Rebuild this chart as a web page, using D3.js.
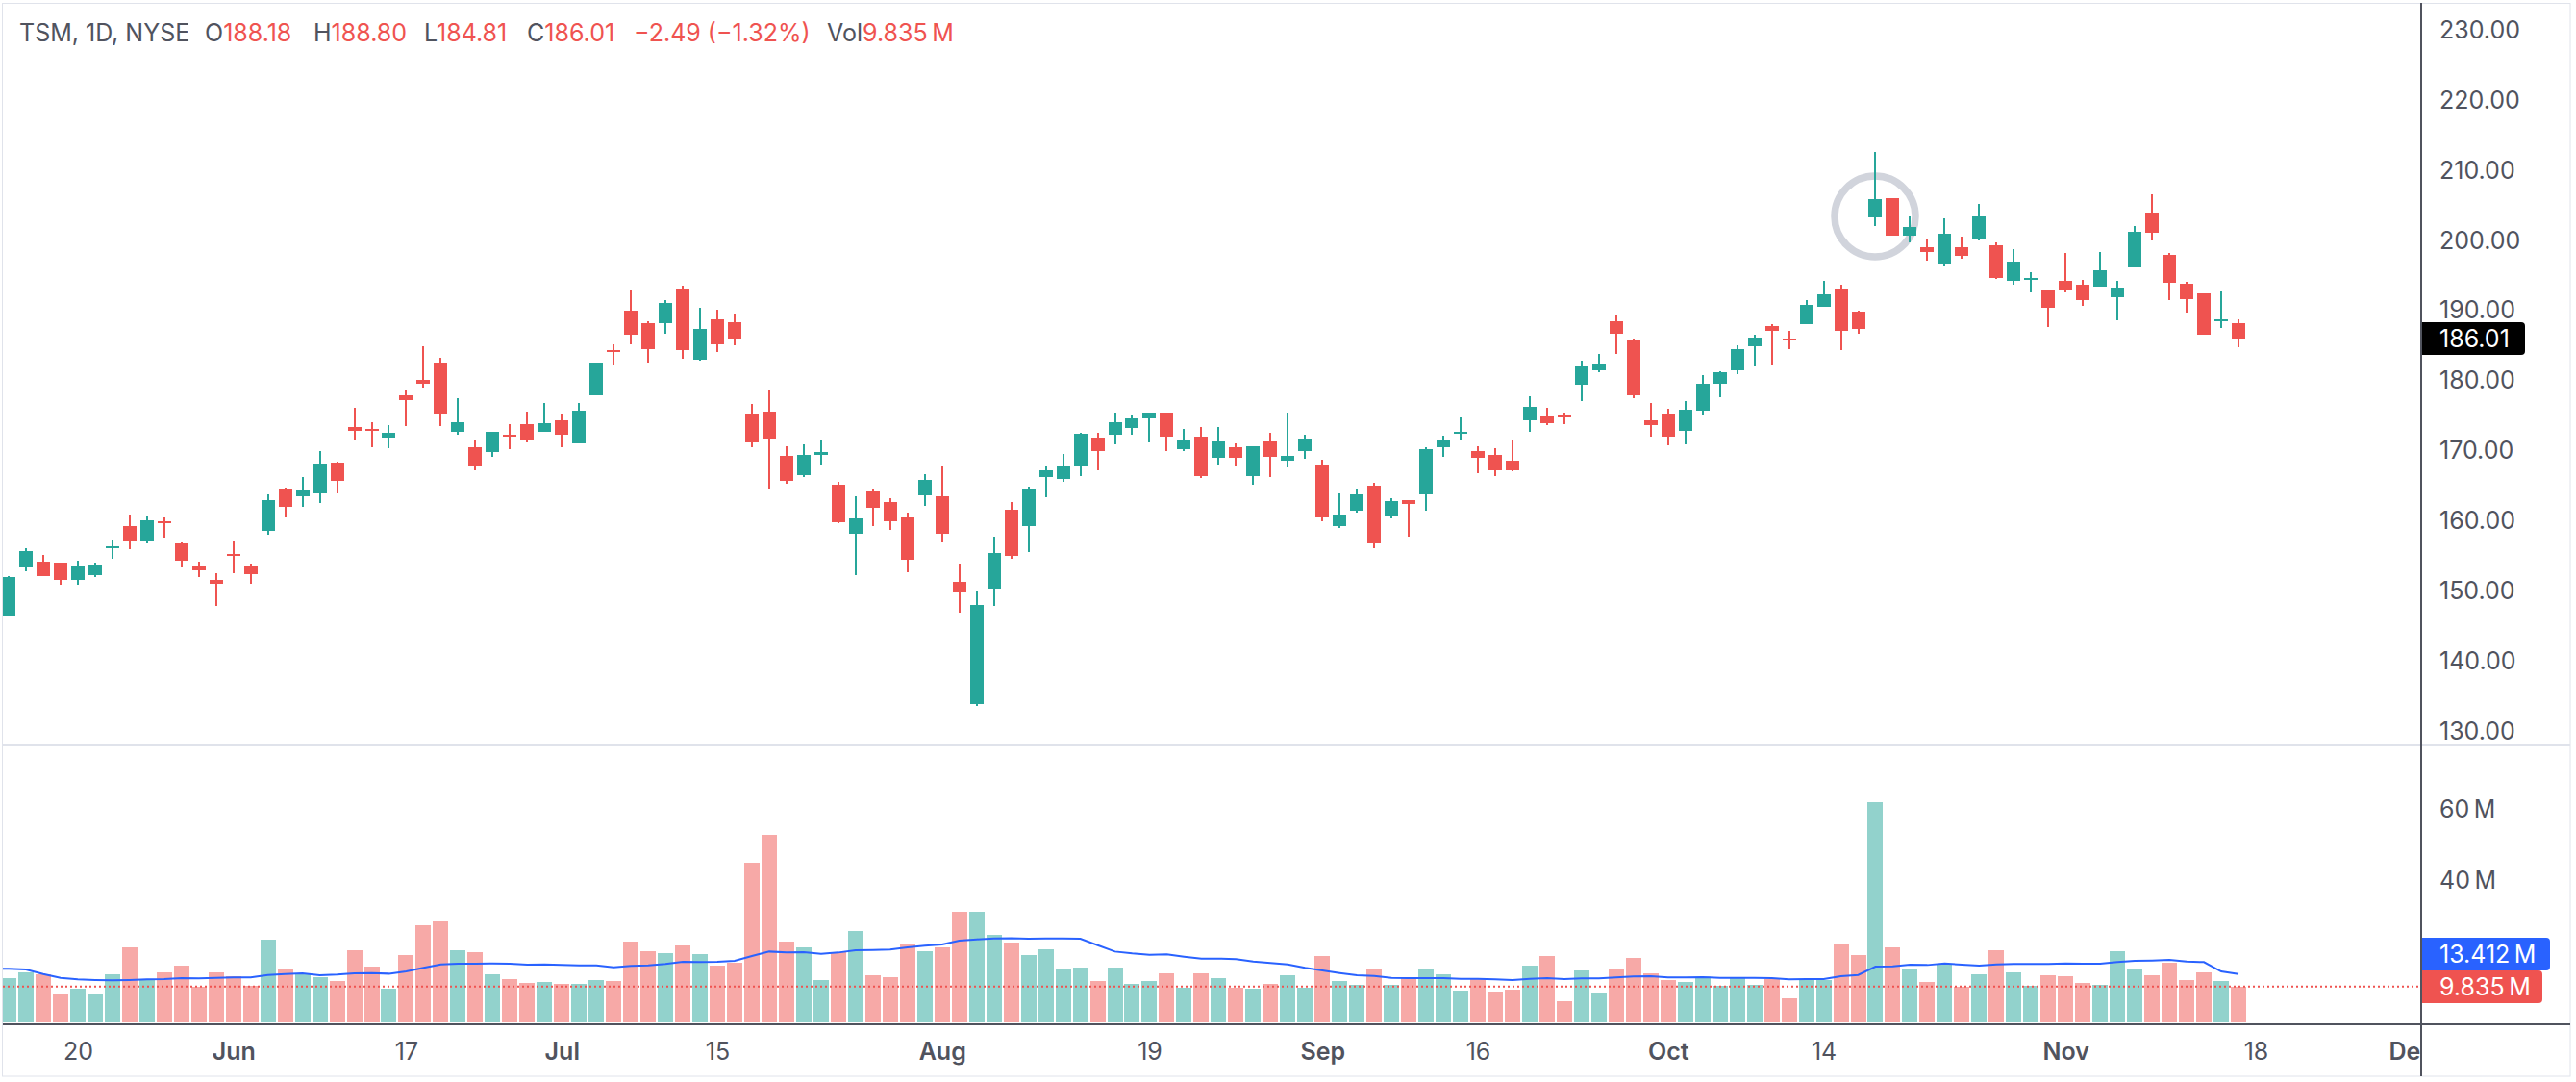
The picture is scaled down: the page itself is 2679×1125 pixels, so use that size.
<!DOCTYPE html>
<html>
<head>
<meta charset="utf-8">
<title>TSM, 1D, NYSE</title>
<script src="https://d3js.org/d3.v7.min.js"></script>
<style>
  html, body { margin: 0; background: #fff; }
  svg { display: block; }
  text { font-family: Inter, "Noto Sans", sans-serif; }
</style>
</head>
<body>
<div id="chart"></div>
<script>
// ohlc, one entry per trading day
var opens = [146.51,153.36,154.19,154.05,151.58,152.27,156.11,159.26,157.20,159.95,
  156.79,153.64,151.58,155.28,153.50,158.58,164.61,163.51,163.92,168.31,
  173.39,173.11,171.88,177.92,180.11,182.58,172.70,170.51,169.82,172.29,
  173.80,172.70,174.35,171.06,177.92,184.36,189.99,188.20,188.20,193.14,
  182.99,188.75,188.34,175.31,175.58,169.27,166.53,169.41,165.16,158.16,
  164.34,162.69,160.50,163.65,163.51,151.31,133.89,150.35,161.59,159.26,
  166.26,165.98,167.90,171.88,172.29,173.25,174.62,175.45,170.23,172.02,
  169.00,170.51,166.39,171.33,168.59,169.96,168.04,159.26,161.46,165.02,
  160.63,162.96,163.79,170.51,172.43,169.96,169.41,168.59,174.35,174.90,
  175.03,179.42,181.48,188.48,185.87,174.35,175.31,172.84,175.72,179.56,
  181.48,184.91,187.79,186.01,188.07,190.53,193.00,189.85,203.29,206.03,
  200.68,199.04,196.57,199.04,200.14,199.31,194.24,194.37,192.87,194.24,
  193.69,193.41,191.91,196.16,203.98,197.94,193.83,192.45,188.48,188.18];
var highs = [152.13,156.11,155.15,154.05,154.32,154.05,157.34,160.91,160.77,160.50,
  156.93,154.19,152.54,157.20,153.91,163.79,164.75,166.26,169.96,168.45,
  176.13,174.07,173.66,178.74,184.91,183.26,177.50,171.47,172.70,173.80,
  175.58,176.82,175.31,176.82,182.58,185.18,192.87,188.48,191.49,193.55,
  190.40,190.12,189.57,176.68,178.74,170.65,170.92,171.61,165.57,163.51,
  164.61,163.24,161.18,166.67,167.77,153.91,150.07,157.75,162.69,164.89,
  167.90,169.55,172.57,172.57,175.45,175.03,175.45,175.45,173.11,173.39,
  173.39,171.06,170.65,172.57,175.45,172.29,168.72,163.92,164.61,165.43,
  163.24,162.96,170.51,172.15,174.76,170.65,170.37,171.61,177.78,176.13,
  175.45,182.85,183.81,189.44,186.01,176.82,175.99,177.09,180.80,181.34,
  185.05,186.51,188.07,187.11,191.49,194.24,193.69,189.99,212.62,206.03,
  203.43,200.14,203.15,200.55,205.21,199.72,198.76,195.47,192.87,198.21,
  194.37,198.35,194.24,202.06,206.58,198.21,194.10,192.45,192.73,188.80];
var lows = [146.37,152.81,152.13,150.89,150.89,151.99,154.60,155.97,156.79,157.62,
  153.36,151.99,147.88,152.54,151.03,158.03,160.50,162.00,162.55,163.92,
  171.61,170.51,170.37,173.53,179.01,173.53,172.29,167.22,169.14,170.23,
  171.19,172.70,170.51,171.06,177.92,182.30,185.18,182.58,186.69,183.13,
  182.85,184.09,185.05,170.51,164.61,165.30,166.26,168.04,159.67,152.27,
  159.26,158.71,152.68,162.14,156.93,146.92,133.61,147.88,154.60,155.56,
  163.38,165.57,166.39,167.22,170.92,172.29,171.19,169.96,169.96,166.12,
  168.04,167.90,165.16,166.26,167.63,168.86,159.95,158.99,161.18,156.11,
  160.36,157.75,161.46,169.14,171.47,166.81,166.39,167.08,172.70,173.66,
  173.80,177.09,181.21,183.81,177.50,172.02,170.78,170.92,175.17,177.64,
  180.93,182.03,182.30,184.50,188.07,190.53,184.36,186.69,202.06,200.68,
  199.72,197.12,196.29,197.39,200.00,194.51,193.69,192.59,187.65,192.59,
  190.67,193.41,188.61,196.16,200.00,191.49,189.71,186.56,187.52,184.81];
var closes = [151.99,155.70,152.13,151.58,153.64,153.78,156.38,157.07,160.08,159.67,
  154.32,152.95,151.03,155.01,152.40,162.96,162.00,164.47,168.18,165.71,
  172.84,172.84,172.57,177.23,179.56,175.31,174.07,167.77,172.70,172.02,
  171.61,173.94,172.29,175.72,182.58,184.09,186.56,184.50,191.08,184.36,
  187.38,185.18,186.01,171.19,171.74,165.71,169.41,169.82,159.81,160.36,
  161.87,159.95,154.46,165.85,158.16,149.80,148.01,155.42,155.01,164.61,
  167.22,167.77,172.43,169.96,174.07,174.62,175.45,172.02,171.47,166.39,
  171.33,169.00,170.65,169.14,169.27,171.74,160.50,160.91,163.79,156.79,
  162.83,162.42,170.23,171.47,172.70,169.00,167.22,167.22,176.27,173.94,
  174.76,182.03,182.44,186.69,177.92,173.66,172.02,175.86,179.56,181.21,
  184.50,186.14,187.11,185.73,190.81,192.32,187.11,187.38,205.90,200.68,
  201.92,198.35,200.96,197.80,203.43,194.65,196.98,194.65,190.40,192.87,
  191.49,195.75,193.28,201.23,201.10,193.96,191.63,186.56,188.75,186.01];

// volume in millions
var volumes = [12.25,13.88,13.34,7.62,9.26,7.89,13.34,20.96,11.71,13.88,
  15.79,9.80,13.88,12.79,10.07,23.14,14.70,13.34,12.52,11.43,
  20.15,15.52,9.26,18.78,27.22,28.31,20.15,19.60,13.34,11.98,
  10.89,11.16,10.62,10.62,11.71,11.43,22.60,19.87,19.33,21.51,
  19.06,15.79,16.61,44.92,52.81,22.60,20.96,11.71,19.60,25.59,
  13.07,12.52,22.05,19.87,20.96,31.03,31.03,24.50,22.32,18.78,
  20.42,14.70,15.25,11.43,15.25,10.62,11.43,13.61,9.53,13.61,
  12.25,9.53,9.26,10.62,13.07,9.53,18.51,11.43,10.34,14.97,
  10.34,12.25,14.97,13.34,8.71,12.25,8.44,8.98,15.79,18.51,
  5.72,14.43,8.17,14.97,17.97,13.61,11.71,11.16,12.25,10.07,
  12.25,10.34,11.98,6.53,11.71,11.71,21.78,18.78,62.07,20.96,
  14.70,11.16,16.06,9.80,13.34,20.15,13.88,10.07,13.07,12.79,
  10.89,10.34,19.87,14.97,13.07,16.61,11.71,13.88,11.43,9.835];
// moving average of volume, first entry is the day before the first candle
var volumeMA = [14.95,14.88,14.70,13.42,12.34,11.88,11.70,11.61,11.70,11.88,11.97,
  12.24,12.15,12.34,12.43,12.43,13.15,13.42,13.61,13.06,13.24,
  13.61,13.70,13.51,14.15,15.15,16.14,16.33,16.33,16.42,16.33,
  16.05,16.14,15.96,15.87,15.87,15.33,15.69,15.87,16.24,16.87,
  16.78,16.87,17.14,18.50,19.77,19.50,19.59,19.14,19.50,20.14,
  20.23,20.32,20.95,21.41,21.77,22.86,23.22,23.49,23.58,23.40,
  23.49,23.49,23.40,21.59,19.77,19.23,18.87,18.96,18.32,17.78,
  17.78,17.60,16.96,16.51,16.14,15.15,14.42,13.70,13.06,12.88,
  12.34,12.24,12.24,12.24,12.06,12.06,11.88,11.70,12.06,12.24,
  11.97,12.15,12.15,12.43,12.70,12.79,12.43,12.43,12.52,12.34,
  12.34,12.34,12.24,11.88,11.97,11.97,12.79,13.15,15.51,15.60,
  16.05,15.96,16.42,16.05,15.78,16.14,16.24,16.24,16.24,16.42,
  16.33,16.33,16.78,17.14,17.23,17.41,16.96,16.78,14.15,13.412];

var priceTicks = [130,140,150,160,170,180,190,200,210,220,230];
var volumeTicks = [40,60];
// time axis labels and the bar number they sit on
var timeBars = [4,13,23,32,41,54,66,76,85,96,105,119,130,139];
var timeLabels = ["20","Jun","17","Jul","15","Aug","19","Sep","16","Oct","14","Nov","18","Dec"];
var monthLabels = ["Jun","Jul","Aug","Sep","Oct","Nov","Dec"];

var lastClose = 186.01;
var lastVolume = 9.835;
var lastVolumeMA = 13.412;
var markedBar = 108;
var markedPrice = 203.43;

var up = "#26a69a", down = "#ef5350";
var upVol = "#92d2cc", downVol = "#f7a9a7";
var maColor = "#2962ff", frame = "#e0e3eb", axisLine = "#50535e", labelText = "#50535e";

var width = 2679, height = 1125;
var left = 3, axisX = 2518, rightEdge = 2673, topEdge = 3, bottomEdge = 1119;
var separatorY = 775, paneBottom = 1063, axisY = 1065;
var fontSize = 25;

var svg = d3.select("#chart").append("svg").attr("width", width).attr("height", height);
var defs = svg.append("defs");
defs.append("clipPath").attr("id", "plot").append("rect")
  .attr("x", left).attr("y", topEdge).attr("width", axisX - left).attr("height", bottomEdge - topEdge);

var x = d3.scaleLinear().domain([0, 129]).range([9, 2328]);
var y = d3.scaleLinear().domain([130, 230]).range([760.3, 31.3]);
var yVol = d3.scaleLinear().domain([0, 60]).range([1062, 841.6]);
// the reference snaps its bars to whole pixels
var barX = i => Math.round(x(i));

//--------------------------------------------------------------------------------
// frame and separators
svg.append("rect").attr("x", 2.5).attr("y", 3.5).attr("width", rightEdge - 2.5).attr("height", bottomEdge - 3.5)
  .attr("fill", "none").attr("stroke", frame).attr("stroke-width", 1);
svg.append("line").attr("x1", 3).attr("x2", rightEdge).attr("y1", separatorY).attr("y2", separatorY)
  .attr("stroke", frame).attr("stroke-width", 2);

var plot = svg.append("g").attr("clip-path", "url(#plot)");

// highlight ring behind the candles
plot.append("circle").attr("cx", barX(markedBar)).attr("cy", y(markedPrice)).attr("r", 42)
  .attr("fill", "none").attr("stroke", "#d1d4dc").attr("stroke-width", 7.5);

//--------------------------------------------------------------------------------
// candles
var days = d3.range(opens.length);
var color = i => closes[i] >= opens[i] ? up : down;

plot.append("g").attr("shape-rendering", "crispEdges").selectAll("rect").data(days).join("rect")
  .attr("x", i => barX(i) - 1).attr("width", 2)
  .attr("y", i => y(highs[i])).attr("height", i => y(lows[i]) - y(highs[i]))
  .attr("fill", color);
plot.append("g").attr("shape-rendering", "crispEdges").selectAll("rect").data(days).join("rect")
  .attr("x", i => barX(i) - 7).attr("width", 14)
  .attr("y", i => y(Math.max(opens[i], closes[i])))
  .attr("height", i => Math.max(2, Math.abs(y(opens[i]) - y(closes[i]))))
  .attr("fill", color);

//--------------------------------------------------------------------------------
// volume
plot.append("g").attr("shape-rendering", "crispEdges").selectAll("rect").data(days).join("rect")
  .attr("x", i => barX(i) - 8).attr("width", 16)
  .attr("y", i => yVol(volumes[i])).attr("height", i => paneBottom - yVol(volumes[i]))
  .attr("fill", i => closes[i] >= opens[i] ? upVol : downVol);

var maLine = d3.line().x((d, i) => x(i - 1)).y(d => yVol(d));
plot.append("path").datum(volumeMA).attr("d", maLine)
  .attr("fill", "none").attr("stroke", maColor).attr("stroke-width", 2);

plot.append("line").attr("x1", left).attr("x2", axisX)
  .attr("y1", yVol(lastVolume)).attr("y2", yVol(lastVolume))
  .attr("stroke", down).attr("stroke-width", 2).attr("stroke-dasharray", "2 3");

//--------------------------------------------------------------------------------
// axes
function styleAxis(g) {
  g.select(".domain").remove();
  g.selectAll("line").remove();
  g.selectAll("text").attr("fill", labelText).attr("font-size", fontSize);
}
svg.append("g").attr("transform", "translate(" + (axisX + 19) + ",0)")
  .call(d3.axisRight(y).tickValues(priceTicks).tickFormat(d3.format(".2f")).tickSize(0).tickPadding(0))
  .call(styleAxis);
svg.append("g").attr("transform", "translate(" + (axisX + 19) + ",0)")
  .call(d3.axisRight(yVol).tickValues(volumeTicks).tickFormat(d => d + "\u2009M").tickSize(0).tickPadding(0))
  .call(styleAxis);

var timeAxis = d3.axisBottom(x).tickValues(timeBars)
  .tickFormat((d, i) => timeLabels[i]).tickSize(0).tickPadding(0);
svg.append("g").attr("clip-path", "url(#plot)")
  .append("g").attr("transform", "translate(0,1084)")
  .call(timeAxis).call(styleAxis)
  .selectAll("text")
  .attr("font-weight", (d, i) => monthLabels.includes(timeLabels[i]) ? 600 : 400);

svg.append("line").attr("x1", 3).attr("x2", rightEdge).attr("y1", axisY).attr("y2", axisY)
  .attr("stroke", axisLine).attr("stroke-width", 2);
svg.append("line").attr("x1", axisX).attr("x2", axisX).attr("y1", topEdge).attr("y2", bottomEdge)
  .attr("stroke", axisLine).attr("stroke-width", 2);

//--------------------------------------------------------------------------------
// last value tags, the two volume tags are stacked so they don't overlap
function tag(top, w, fill, label) {
  svg.append("path")
    .attr("d", "M" + (axisX + 1) + "," + top + "h" + (w - 5) + "a4,4 0 0 1 4,4v26a4,4 0 0 1 -4,4h-" + (w - 5) + "z")
    .attr("fill", fill);
  svg.append("text").attr("x", axisX + 19).attr("y", top + 17).attr("dy", "0.35em")
    .attr("fill", "#fff").attr("font-size", fontSize).text(label);
}
tag(y(lastClose) - 17, 108, "#000", lastClose.toFixed(2));
tag(975, 134, maColor, lastVolumeMA + "\u2009M");
tag(1009, 126, down, lastVolume + "\u2009M");

//--------------------------------------------------------------------------------
// legend line
var last = opens.length - 1;
var legend = [
  { x: 20, parts: [["TSM, 1D, NYSE", labelText]] },
  { x: 213, parts: [["O", labelText], [opens[last].toFixed(2), down]] },
  { x: 326, parts: [["H", labelText], [highs[last].toFixed(2), down]] },
  { x: 441, parts: [["L", labelText], [lows[last].toFixed(2), down]] },
  { x: 548, parts: [["C", labelText], [closes[last].toFixed(2), down]] },
  { x: 659, parts: [["\u22122.49 (\u22121.32%)", down]] },
  { x: 860, parts: [["Vol", labelText], [lastVolume + "\u2009M", down]] }
];
legend.forEach(function(item) {
  var t = svg.append("text").attr("x", item.x).attr("y", 34).attr("dy", "0.35em").attr("font-size", fontSize);
  item.parts.forEach(function(p) {
    t.append("tspan").attr("fill", p[1]).text(p[0]);
  });
});
</script>
</body>
</html>
